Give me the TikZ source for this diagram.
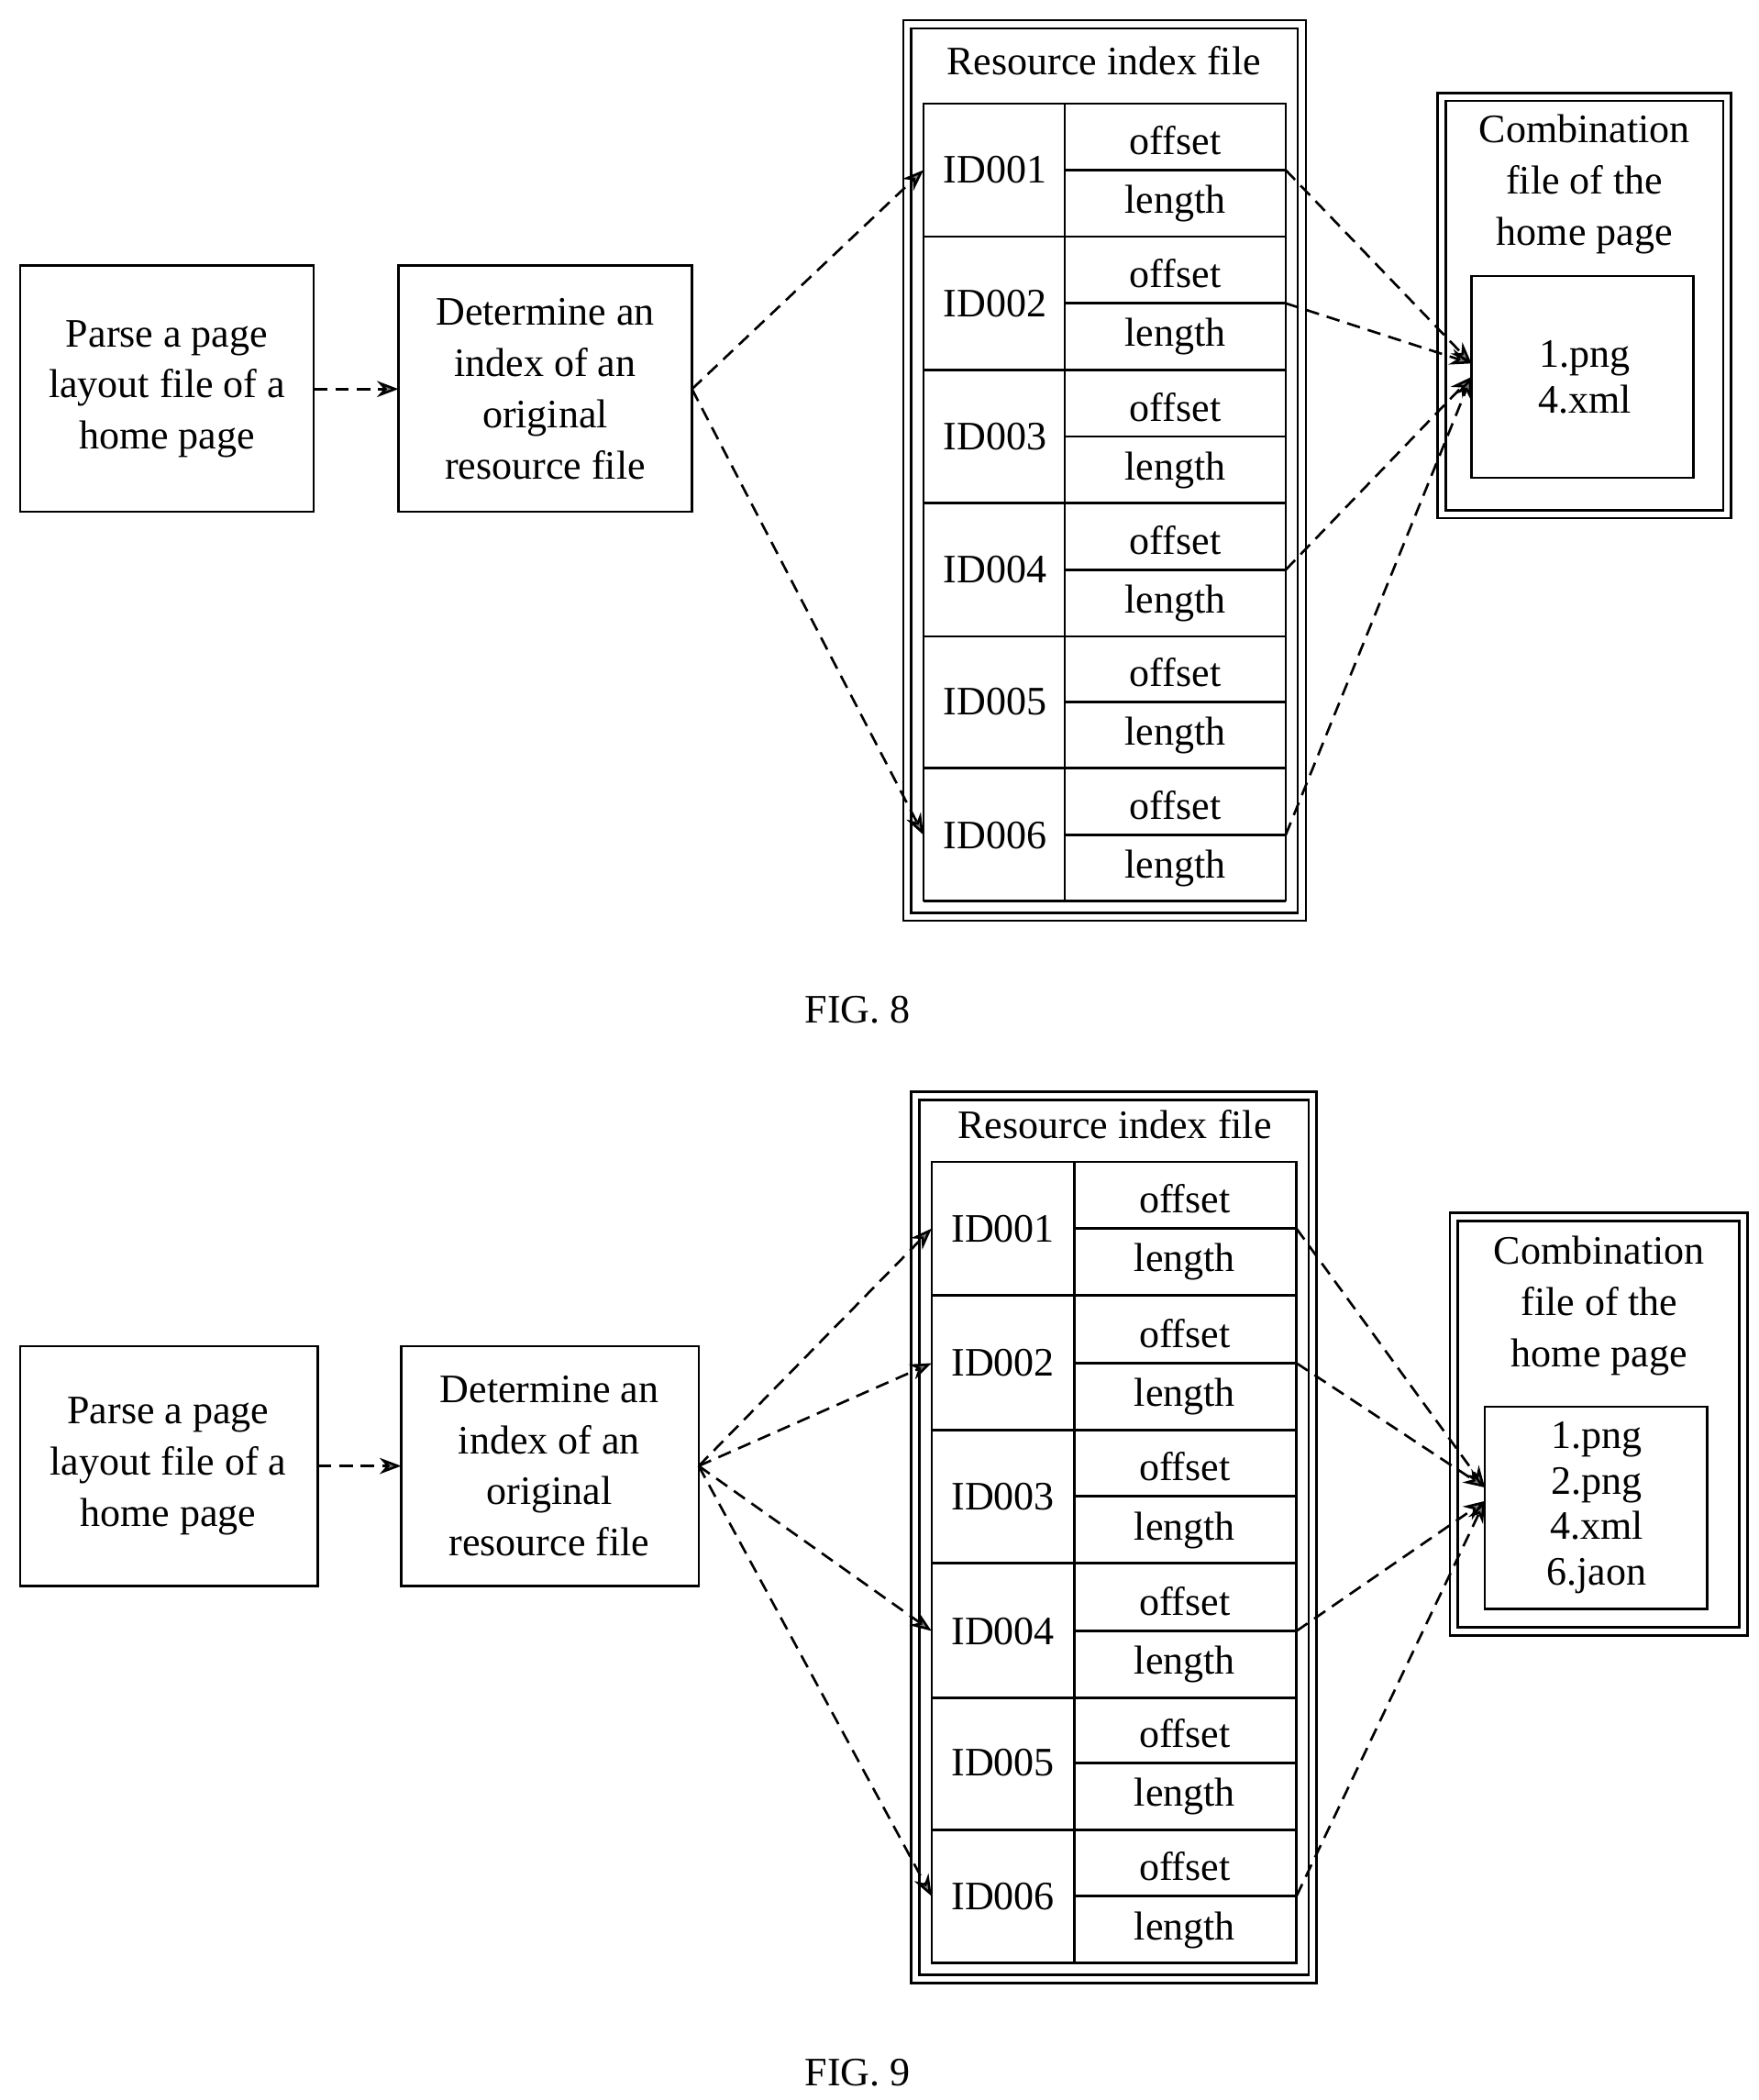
\documentclass[tikz,border=0pt]{standalone}
\usepackage{fontspec}
\setmainfont{Liberation Serif}
\usetikzlibrary{arrows.meta}
\begin{document}
\begin{tikzpicture}[x=1pt,y=-1pt,
  bx/.style={draw,line width=1.8pt},
  t/.style={font=\fontsize{30}{38}\selectfont,align=center,inner sep=0},
  ar/.style={draw,line width=1.8pt,dash pattern=on 10pt off 6pt,-{Stealth[length=16pt,width=12pt,fill=gray]}}]
\useasboundingbox (0,0) rectangle (1306,1560);
% ---------- FIG 8 ----------
\draw[bx] (15,197) rectangle (233,380);
\node[t] (a1) at (124,289) {Parse a page\\layout file of a\\home page};
\draw[bx] (296,197) rectangle (514,380);
\node[t] (b1) at (405,289) {Determine an\\index of an\\original\\resource file};
\coordinate (a1r) at (233,289); \coordinate (b1l) at (296,289); \coordinate (b1r) at (514,289);
\draw[ar] (a1r) -- (b1l);
\draw[bx] (671,15) rectangle (970,684);
\draw[bx] (677,21) rectangle (964,678);
\node[t] at (820,45) {Resource index file};
\draw[bx] (686,77) rectangle (955,669);
\draw[bx] (791,77) -- (791,669);
\foreach \i/\yy in {1/77,2/176,3/275,4/374,5/472,6/571}{
  \pgfmathsetmacro\yb{\yy+98.7}\pgfmathsetmacro\ym{\yy+49.3}
  \draw[bx] (686,\yb) -- (955,\yb);
  \draw[bx] (791,\ym) -- (955,\ym);
  \node[t] at (739,\ym) {ID00\i};
  \node[t] at (873,\ym-22) {offset};
  \node[t] at (873,\ym+25) {length};
  \coordinate (L\i) at (686,\ym); \coordinate (R\i) at (955,\ym);
}
\draw[bx] (1068,69) rectangle (1286,385);
\draw[bx] (1074,75) rectangle (1280,379);
\node[t] at (1177,137) {Combination\\file of the\\home page};
\draw[bx] (1093,205) rectangle (1258,355);
\node[t,font=\fontsize{30}{34}\selectfont] at (1177,280) {1.png\\4.xml};
\coordinate (c1) at (1093,270); \coordinate (c2) at (1093,280);
\draw[ar] (b1r) -- (L1);
\draw[ar] (b1r) -- (L6);
\draw[ar] (R1) -- (c1);
\draw[ar] (R2) -- (c1);
\draw[ar] (R4) -- (c2);
\draw[ar] (R6) -- (c2);
\node[t] (f8) at (637,750) {FIG. 8};
% ---------- FIG 9 ----------
\draw[bx] (15,1000) rectangle (236,1178);
\node[t] (a2) at (125,1089) {Parse a page\\layout file of a\\home page};
\draw[bx] (298,1000) rectangle (519,1178);
\node[t] (b2) at (408,1089) {Determine an\\index of an\\original\\resource file};
\coordinate (a2r) at (236,1089); \coordinate (b2l) at (298,1089); \coordinate (b2r) at (519,1089);
\draw[ar] (a2r) -- (b2l);
\draw[bx] (677,811) rectangle (978,1473);
\draw[bx] (683,817) rectangle (972,1467);
\node[t] at (828,835) {Resource index file};
\draw[bx] (692,863) rectangle (963,1458);
\draw[bx] (798,863) -- (798,1458);
\foreach \i/\yy in {1/863,2/963,3/1062,4/1162,5/1260,6/1359}{
  \pgfmathsetmacro\yb{\yy+99.2}\pgfmathsetmacro\ym{\yy+49.6}
  \draw[bx] (692,\yb) -- (963,\yb);
  \draw[bx] (798,\ym) -- (963,\ym);
  \node[t] at (745,\ym) {ID00\i};
  \node[t] at (880,\ym-22) {offset};
  \node[t] at (880,\ym+25) {length};
  \coordinate (M\i) at (692,\ym); \coordinate (S\i) at (963,\ym);
}
\draw[bx] (1077,901) rectangle (1298,1215);
\draw[bx] (1083,907) rectangle (1292,1209);
\node[t] at (1188,970) {Combination\\file of the\\home page};
\draw[bx] (1103,1045) rectangle (1268,1195);
\node[t,font=\fontsize{30}{34}\selectfont] at (1186,1120) {1.png\\2.png\\4.xml\\6.jaon};
\coordinate (d1) at (1103,1105); \coordinate (d2) at (1103,1115);
\draw[ar] (b2r) -- (M1);
\draw[ar] (b2r) -- (M2);
\draw[ar] (b2r) -- (M4);
\draw[ar] (b2r) -- (M6);
\draw[ar] (S1) -- (d1);
\draw[ar] (S2) -- (d1);
\draw[ar] (S4) -- (d2);
\draw[ar] (S6) -- (d2);
\node[t] (f9) at (637,1540) {FIG. 9};
\end{tikzpicture}
\end{document}
